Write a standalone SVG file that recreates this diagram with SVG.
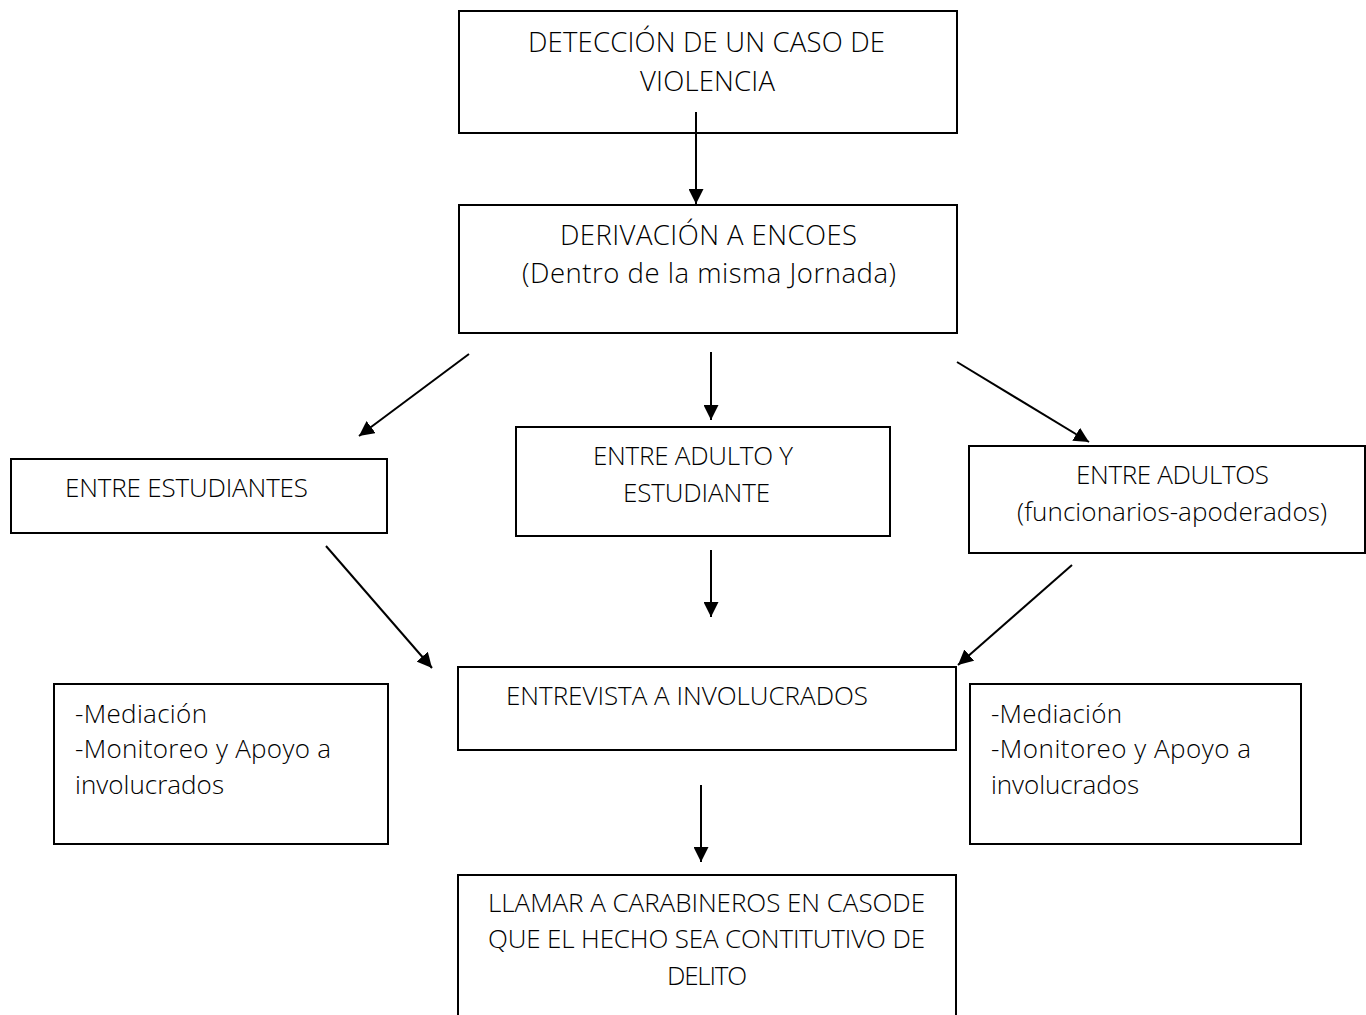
<svg xmlns="http://www.w3.org/2000/svg" width="1366" height="1015" viewBox="0 0 1366 1015">
<defs>
<marker id="ah" markerUnits="userSpaceOnUse" markerWidth="15" markerHeight="15" refX="15" refY="7.5" orient="auto">
<path d="M0,0 L15,7.5 L0,15 z" fill="#000"/>
</marker>
<style>
.box{fill:#fff;stroke:#000;stroke-width:2}
.t{font-family:"Open Sans","Liberation Sans",sans-serif;font-weight:300;font-size:26px;fill:#000}
.l{font-size:27.5px}
.c{fill:none;stroke:#000;stroke-width:2;marker-end:url(#ah)}
</style>
</defs>
<rect width="1366" height="1015" fill="#fff"/>
<g id="n1">
<rect class="box" x="459" y="11" width="498" height="122"/>
<text class="t l" x="528" y="52" textLength="357">DETECCIÓN DE UN CASO DE</text>
<text class="t l" x="640" y="91" textLength="135">VIOLENCIA</text>
</g>
<g id="n2">
<rect class="box" x="459" y="205" width="498" height="128"/>
<text class="t l" x="560" y="245" textLength="297">DERIVACIÓN A ENCOES</text>
<text class="t l" x="522" y="283" textLength="374">(Dentro de la misma Jornada)</text>
</g>
<g id="n3">
<rect class="box" x="11" y="459" width="376" height="74"/>
<text class="t" x="65" y="497" textLength="243">ENTRE ESTUDIANTES</text>
</g>
<g id="n4">
<rect class="box" x="516" y="427" width="374" height="109"/>
<text class="t" x="593" y="465" textLength="200">ENTRE ADULTO Y</text>
<text class="t" x="623" y="502" textLength="147">ESTUDIANTE</text>
</g>
<g id="n5">
<rect class="box" x="969" y="446" width="396" height="107"/>
<text class="t" x="1076" y="484" textLength="193">ENTRE ADULTOS</text>
<text class="t" x="1017" y="521" textLength="310">(funcionarios-apoderados)</text>
</g>
<g id="n6">
<rect class="box" x="458" y="667" width="498" height="83"/>
<text class="t" x="506" y="705" textLength="362">ENTREVISTA A INVOLUCRADOS</text>
</g>
<g id="n7">
<rect class="box" x="54" y="684" width="334" height="160"/>
<text class="t" x="75" y="723" textLength="132">-Mediación</text>
<text class="t" x="75" y="758" textLength="256">-Monitoreo y Apoyo a</text>
<text class="t" x="75" y="794" textLength="149">involucrados</text>
</g>
<g id="n8">
<rect class="box" x="970" y="684" width="331" height="160"/>
<text class="t" x="991" y="723" textLength="131">-Mediación</text>
<text class="t" x="991" y="758" textLength="260">-Monitoreo y Apoyo a</text>
<text class="t" x="991" y="794" textLength="148">involucrados</text>
</g>
<g id="n9">
<rect class="box" x="458" y="875" width="498" height="160"/>
<text class="t" x="488" y="912" textLength="437">LLAMAR A CARABINEROS EN CASODE</text>
<text class="t" x="488" y="948" textLength="437">QUE EL HECHO SEA CONTITUTIVO DE</text>
<text class="t" x="667" y="985" textLength="80">DELITO</text>
</g>
<g id="connectors">
<line class="c" x1="696" y1="112" x2="696" y2="204"/>
<line class="c" x1="469" y1="354" x2="359" y2="436"/>
<line class="c" x1="711" y1="352" x2="711" y2="420"/>
<line class="c" x1="957" y1="362" x2="1089" y2="442"/>
<line class="c" x1="326" y1="546" x2="432" y2="668"/>
<line class="c" x1="711" y1="550" x2="711" y2="617"/>
<line class="c" x1="1072" y1="565" x2="958" y2="665"/>
<line class="c" x1="701" y1="785" x2="701" y2="862"/>
</g>
</svg>
